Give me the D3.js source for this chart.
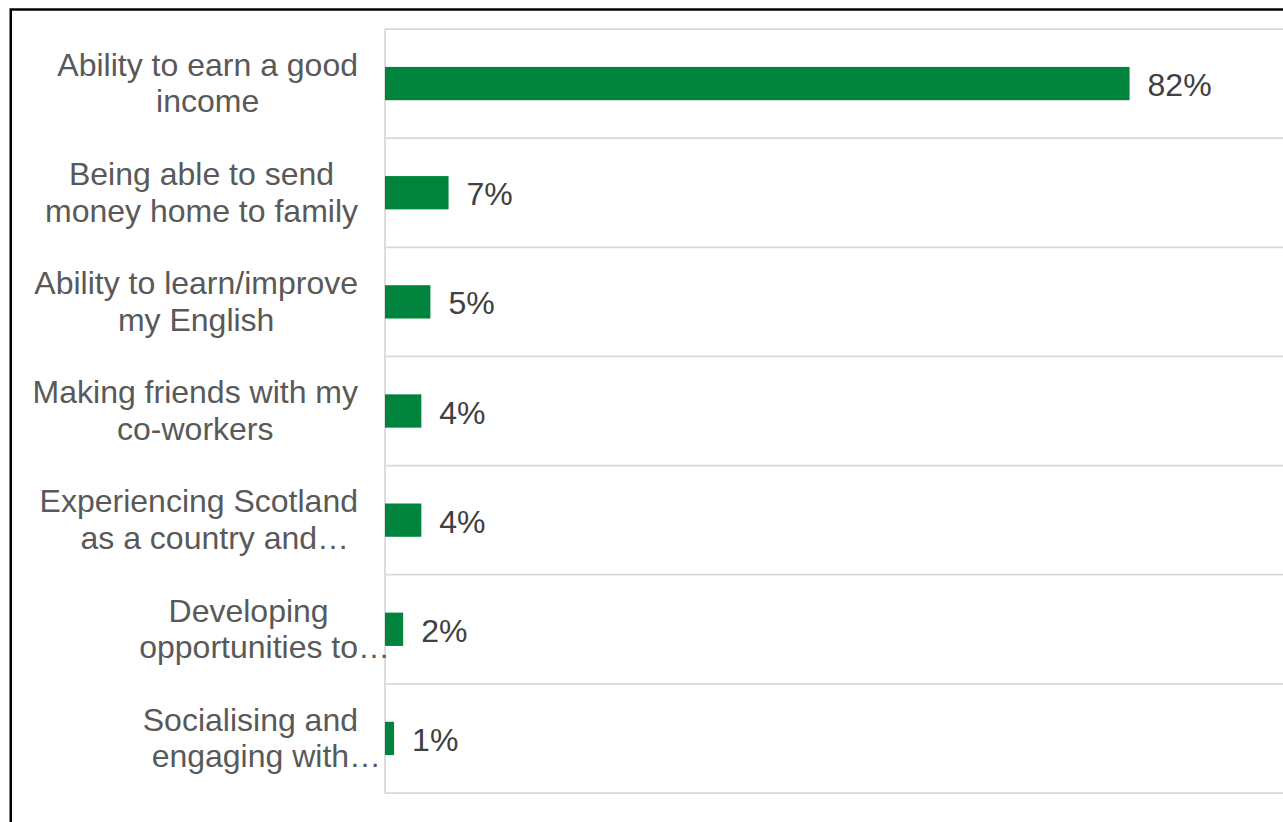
<!DOCTYPE html>
<html>
<head>
<meta charset="utf-8">
<script src="https://cdn.jsdelivr.net/npm/d3@7"></script>
<style>
  html, body { margin: 0; padding: 0; background: #ffffff; }
  svg { display: block; }
</style>
</head>
<body>
<svg id="chart" width="1283" height="822"></svg>
<script>
// Category labels, already wrapped into lines ("…" marks a truncated label)
const categories = [
  "Ability to earn a good\nincome",
  "Being able to send\nmoney home to family",
  "Ability to learn/improve\nmy English",
  "Making friends with my\nco-workers",
  "Experiencing Scotland\nas a country and…",
  "Developing\nopportunities to…",
  "Socialising and\nengaging with…"
];
// Share of respondents (%)
const values = [82, 7, 5, 4, 4, 2, 1];
const valueLabels = ["82%", "7%", "5%", "4%", "4%", "2%", "1%"];
const xDomain = [0, 100];

const svg = d3.select("#chart");
const plot = { left: 385, right: 1293, top: 29, bottom: 793 };
const FONT = "'Liberation Sans', Arial, Helvetica, sans-serif";

// outer frame
svg.append("rect")
  .attr("x", 10.75).attr("y", 9.5)
  .attr("width", 1400).attr("height", 1000)
  .attr("fill", "none").attr("stroke", "#000").attr("stroke-width", 2.5);

const x = d3.scaleLinear().domain(xDomain).range([plot.left, plot.right]);
const y = d3.scaleBand().domain(d3.range(categories.length))
  .range([plot.top, plot.bottom]).paddingInner(0).paddingOuter(0);

// horizontal gridlines at band boundaries
const bounds = d3.range(categories.length + 1).map(i => plot.top + i * y.step());
svg.append("g").selectAll("line").data(bounds).join("line")
  .attr("x1", plot.left).attr("x2", plot.right)
  .attr("y1", d => d).attr("y2", d => d)
  .attr("stroke", "#d9d9d9").attr("stroke-width", 1.75);

// category axis line
svg.append("line")
  .attr("x1", plot.left).attr("x2", plot.left)
  .attr("y1", plot.top).attr("y2", plot.bottom)
  .attr("stroke", "#d9d9d9").attr("stroke-width", 1.75);

// bars
const barFrac = 0.305;
const barH = y.bandwidth() * barFrac;
svg.append("g").selectAll("rect").data(values).join("rect")
  .attr("x", x(0))
  .attr("y", (d, i) => y(i) + (y.bandwidth() - barH) / 2)
  .attr("width", d => x(d) - x(0))
  .attr("height", barH)
  .attr("fill", "#00843d");

// value labels
svg.append("g").selectAll("text").data(values).join("text")
  .attr("x", d => x(d) + 18)
  .attr("y", (d, i) => y(i) + y.bandwidth() / 2 + 12.5)
  .attr("font-family", FONT).attr("font-size", 32)
  .attr("fill", "#404040")
  .text((d, i) => valueLabels[i]);

// category labels: lines centred within a block right-aligned to the axis
const labelRight = 358;
const lineH = 36.6;
const gLab = svg.append("g");
categories.forEach((cat, i) => {
  const lines = cat.split("\n");
  const cy = y(i) + y.bandwidth() / 2;
  const texts = lines.map((ln, j) => {
    const core = ln.endsWith("…") ? ln.slice(0, -1) : ln;
    const t = gLab.append("text")
      .attr("font-family", FONT).attr("font-size", 32)
      .attr("fill", "#595959")
      .attr("y", cy - 7.7 + (j - (lines.length - 2) / 2) * lineH)
      .text(core);
    const w = t.node().getComputedTextLength();
    return { t, w, ln };
  });
  const blockW = d3.max(texts, d => d.w);
  const center = labelRight - blockW / 2;
  texts.forEach(d => {
    d.t.attr("x", center - d.w / 2).text(d.ln);
  });
});
</script>
</body>
</html>
